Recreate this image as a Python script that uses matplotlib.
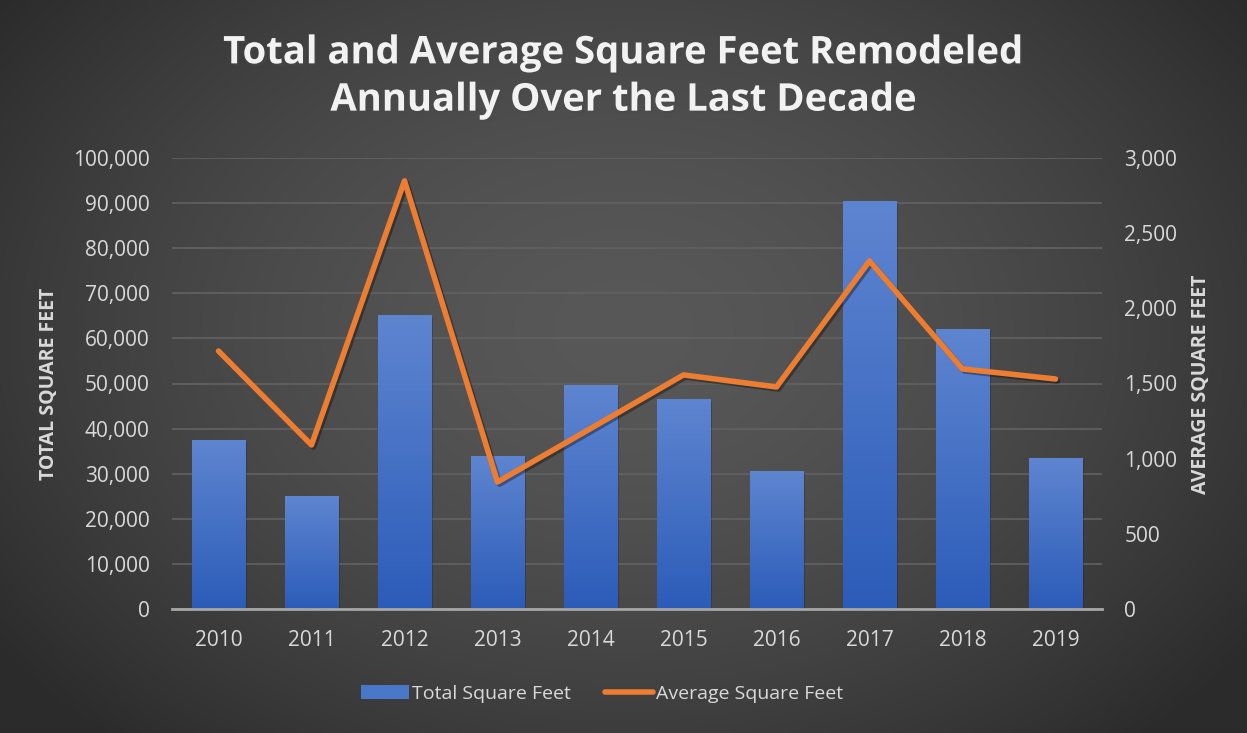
import numpy as np
import matplotlib
matplotlib.use("Agg")
import matplotlib.pyplot as plt
import matplotlib.patheffects as pe
from matplotlib.ticker import FuncFormatter, MultipleLocator
from matplotlib.patches import Patch
from matplotlib.lines import Line2D

years = ["2010", "2011", "2012", "2013", "2014", "2015", "2016", "2017", "2018", "2019"]
total_sqft = [37500, 25000, 65200, 34000, 49700, 46600, 30600, 90500, 62100, 33500]
avg_sqft = [1716, 1091, 2848, 845, 1200, 1557, 1477, 2315, 1597, 1530]

title = "Total and Average Square Feet Remodeled\nAnnually Over the Last Decade"
left_label = "TOTAL SQUARE FEET"
right_label = "AVERAGE SQUARE FEET"
legend_labels = ["Total Square Feet", "Average Square Feet"]

FONT = "Open Sans"
TXT = "#d9d9d9"
BLUE = "#4a78c8"
ORANGE = "#ed7d31"

W, H = 1247, 733
fig = plt.figure(figsize=(W / 100, H / 100), dpi=100)

# background radial gradient
bg = fig.add_axes([0, 0, 1, 1], zorder=-10)
yy, xx = np.mgrid[0:1:400j, 0:1:700j]
r = np.sqrt(((xx - 0.5) / 0.62) ** 2 + ((yy - 0.45) / 0.75) ** 2)
r = np.clip(r, 0, 1)
val = 0.345 - (0.345 - 0.17) * r ** 1.6
img = np.dstack([val, val, val])
bg.imshow(img, extent=(0, 1, 0, 1), aspect="auto", origin="upper")
bg.set_xlim(0, 1)
bg.set_ylim(0, 1)
bg.axis("off")

ax = fig.add_axes([172 / W, 1 - 609 / H, (1102 - 172) / W, (609 - 158) / H])
ax.patch.set_alpha(0)
x = np.arange(len(years))
bw = 0.57
bars = ax.bar(x, total_sqft, width=bw, color="none", edgecolor="none", zorder=2)

grad = np.linspace(0, 1, 256).reshape(-1, 1)
top = np.array([0x5e, 0x85, 0xd0]) / 255
bot = np.array([0x2c, 0x5c, 0xb9]) / 255
gimg = top[None, None, :] * (1 - grad[:, :, None]) + bot[None, None, :] * grad[:, :, None]
for b in bars:
    x0, w_, h_ = b.get_x(), b.get_width(), b.get_height()
    ax.bar(x0 + w_ / 2 + 0.02, h_, width=w_, bottom=-400, color="#000000", alpha=0.18, zorder=1.5)
    im = ax.imshow(gimg, extent=(x0, x0 + w_, 0, h_), aspect="auto", origin="upper", zorder=2)
    im.set_clip_path(b)

ax.set_xlim(-0.5, len(years) - 0.5)
ax.set_ylim(0, 100000)
ax.yaxis.set_major_locator(MultipleLocator(10000))
ax.yaxis.set_major_formatter(FuncFormatter(lambda v, p: f"{int(v):,}"))
ax.set_xticks(x)
ax.set_xticklabels(years)
ax.grid(axis="y", color="#626262", linewidth=1.2, zorder=0)
ax.set_axisbelow(True)
for s in ["top", "right", "left"]:
    ax.spines[s].set_visible(False)
ax.spines["bottom"].set_color("#a6a6a6")
ax.spines["bottom"].set_linewidth(2)
ax.spines["bottom"].set_zorder(3)
ax.tick_params(axis="both", length=0, colors=TXT, labelsize=15)
ax.tick_params(axis="y", pad=16)
ax.tick_params(axis="x", pad=15)
for lab in ax.get_xticklabels() + ax.get_yticklabels():
    lab.set_fontfamily(FONT)

ax2 = ax.twinx()
ax2.patch.set_alpha(0)
ax2.plot(x, avg_sqft, color=ORANGE, linewidth=4, solid_capstyle="round", solid_joinstyle="round",
         zorder=5, path_effects=[pe.SimpleLineShadow(offset=(1.5, -1.5), alpha=0.35), pe.Normal()])
ax2.set_ylim(0, 3000)
ax2.yaxis.set_major_locator(MultipleLocator(500))
ax2.yaxis.set_major_formatter(FuncFormatter(lambda v, p: f"{int(v):,}"))
for s in ax2.spines.values():
    s.set_visible(False)
ax2.tick_params(axis="y", length=0, colors=TXT, labelsize=15, pad=16)
for lab in ax2.get_yticklabels():
    lab.set_fontfamily(FONT)

fig.text(49 / W, 1 - 384 / H, left_label, rotation=90, ha="center", va="center",
         color=TXT, fontsize=14, fontweight="bold", family=FONT)
fig.text(1201 / W, 1 - 384 / H, right_label, rotation=90, ha="center", va="center",
         color=TXT, fontsize=14, fontweight="bold", family=FONT)

fig.text(624 / W, 1 - 77 / H, title, ha="center", va="center", color="#f2f2f2",
         fontsize=27.5, fontweight="bold", family=FONT, linespacing=1.32,
         path_effects=[pe.withSimplePatchShadow(offset=(1.5, -1.5), alpha=0.5)])

handles = [Patch(facecolor=BLUE, edgecolor="none"),
           Line2D([0], [0], color=ORANGE, linewidth=4, solid_capstyle="round")]
leg = fig.legend(handles, legend_labels, loc="center", bbox_to_anchor=(602 / W, 1 - 694 / H),
                 ncol=2, frameon=False, handlelength=2.45, handleheight=0.75, handletextpad=0.15,
                 columnspacing=1.8, prop={"family": FONT, "size": 14})
for t in leg.get_texts():
    t.set_color(TXT)

fig.savefig("out.png", dpi=100)
